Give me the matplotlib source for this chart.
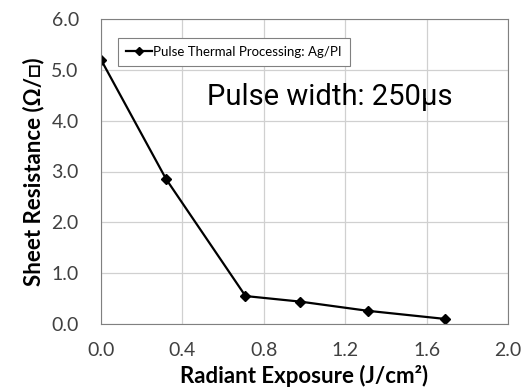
import matplotlib
matplotlib.use('Agg')
import matplotlib.pyplot as plt

# data
exposure = [0.0, 0.32, 0.71, 0.98, 1.31, 1.69]
resistance = [5.2, 2.85, 0.55, 0.44, 0.26, 0.10]
x_ticks = [0.0, 0.4, 0.8, 1.2, 1.6, 2.0]
y_ticks = [0.0, 1.0, 2.0, 3.0, 4.0, 5.0, 6.0]

plt.rcParams['font.family'] = ['Lato', 'DejaVu Sans']

fig = plt.figure(figsize=(5.27, 3.91), dpi=100)
ax = fig.add_axes([101 / 527, 1 - 324 / 391, 407 / 527, 305 / 391])

ax.plot(exposure, resistance, color='black', linewidth=1.6, marker='D',
        markersize=5, label='Pulse Thermal Processing: Ag/PI')

ax.set_xlim(0, 2.0)
ax.set_ylim(0, 6.0)
ax.set_xticks(x_ticks)
ax.set_yticks(y_ticks)
ax.set_xticklabels([f'{v:.1f}' for v in x_ticks], fontsize=14, color='#404040')
ax.set_yticklabels([f'{v:.1f}' for v in y_ticks], fontsize=14, color='#404040')
ax.tick_params(axis='x', length=0, pad=13)
ax.tick_params(axis='y', length=0, pad=16)
ax.grid(True, color='#d0d0d0', linewidth=0.9)
ax.set_axisbelow(True)
for s in ax.spines.values():
    s.set_color('#808080')

ax.set_xlabel('Radiant Exposure (J/cm²)', fontsize=16, fontweight='bold', labelpad=4)
ax.set_ylabel('Sheet Resistance (Ω/□)', fontsize=16, fontweight='bold', labelpad=5)

leg = ax.legend(loc='upper left', bbox_to_anchor=(0.025, 0.96), fontsize=9.5,
                fancybox=False, framealpha=1, edgecolor='#808080',
                handlelength=2.0, handletextpad=0.1, borderpad=0.6,
                markerscale=0.8)
leg.get_frame().set_linewidth(0.8)

ax.text(0.26, 0.718, 'Pulse width: 250µs', transform=ax.transAxes,
        fontsize=21, family='Roboto', color='black')

fig.savefig('out.png', dpi=100)
